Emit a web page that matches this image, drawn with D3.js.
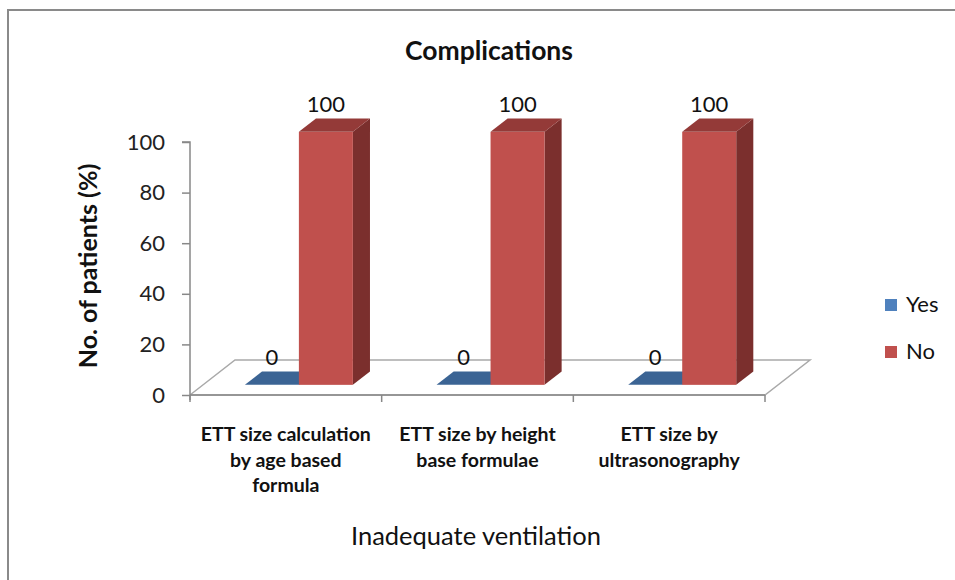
<!DOCTYPE html>
<html>
<head>
<meta charset="utf-8">
<script src="https://cdn.jsdelivr.net/npm/d3@7"></script>
<style>
  html, body { margin: 0; padding: 0; background: #fff; }
  svg { display: block; font-family: Lato, "Noto Sans", sans-serif; }
</style>
</head>
<body>
<svg id="chart" width="955" height="580"></svg>
<script>
// Chart data
const categories = [
  ["ETT size calculation", "by age based", "formula"],
  ["ETT size by height", "base formulae"],
  ["ETT size by", "ultrasonography"]
];
const seriesNames = ["Yes", "No"];
const yesValues = [0, 0, 0];
const noValues = [100, 100, 100];
const yTicks = [0, 20, 40, 60, 80, 100];

const colors = {
  Yes: { front: "#4F81BD", side: "#2C4D75", top: "#3B6494" },
  No:  { front: "#C0504D", side: "#7B2F2D", top: "#943A38" }
};

const svg = d3.select("#chart");

// outer frame
svg.append("rect")
  .attr("x", 8).attr("y", 10).attr("width", 960).attr("height", 600)
  .attr("fill", "none").attr("stroke", "#8a8a8a").attr("stroke-width", 2);

// plot geometry
const x0 = 190, x1 = 765, yBase = 395, yTop = 142;
const floorDepth = [45, -35];     // 3D depth vector of floor
const barFrontFrac = 0.29, barDepthFrac = 0.38;

const keys = categories.map((c, i) => "c" + i);
const x = d3.scaleBand().domain(keys).range([x0, x1]).paddingInner(0).paddingOuter(0);
const xs = d3.scaleBand().domain(seriesNames).range([0, x.bandwidth()])
  .paddingInner(0).paddingOuter(0.775);
const y = d3.scaleLinear().domain([0, 100]).range([yBase, yTop]);

// floor
const fdx = floorDepth[0], fdy = floorDepth[1];
svg.append("path")
  .attr("d", d3.line()([[x0, yBase], [x1, yBase], [x1 + fdx, yBase + fdy], [x0 + fdx, yBase + fdy], [x0, yBase]]))
  .attr("fill", "none").attr("stroke", "#a9a9a9").attr("stroke-width", 1.5);

// y axis
const yAxis = d3.axisLeft(y).tickValues(yTicks).tickSize(8).tickPadding(17);
const gy = svg.append("g").attr("transform", `translate(${x0},0)`).call(yAxis);
gy.select(".domain").attr("d", `M-8,${yTop}H0V${yBase + 5}`).attr("stroke", "#888").attr("stroke-width", 1.5);
gy.selectAll(".tick line").attr("stroke", "#888").attr("stroke-width", 1.5);
gy.selectAll(".tick text").attr("font-size", 22).attr("fill", "#222")
  .attr("font-family", "Lato, 'Noto Sans', sans-serif");

// x axis line with category boundary ticks
svg.append("line").attr("x1", x0).attr("x2", x1).attr("y1", yBase).attr("y2", yBase)
  .attr("stroke", "#888").attr("stroke-width", 1.5);
const boundaries = keys.map(k => x(k)).concat([x1]);
svg.selectAll(".xtick").data(boundaries).join("line")
  .attr("x1", d => d).attr("x2", d => d).attr("y1", yBase).attr("y2", yBase + 7)
  .attr("stroke", "#888").attr("stroke-width", 1.5);

// 3D bars
const offX = fdx * barFrontFrac, offY = fdy * barFrontFrac;
const dX = fdx * barDepthFrac, dY = fdy * barDepthFrac;

function drawBar(g, bx, w, v, c) {
  const yt = y(v) + offY, yb = y(0) + offY;
  const xl = bx + offX, xr = xl + w;
  if (yb - yt > 0) {
    g.append("path").attr("d", d3.line()([[xr, yb], [xr + dX, yb + dY], [xr + dX, yt + dY], [xr, yt]]) + "Z")
      .attr("fill", c.side);
    g.append("rect").attr("x", xl).attr("y", yt).attr("width", w).attr("height", yb - yt).attr("fill", c.front);
  }
  g.append("path").attr("d", d3.line()([[xl, yt], [xr, yt], [xr + dX, yt + dY], [xl + dX, yt + dY]]) + "Z")
    .attr("fill", c.top);
}

const gBars = svg.append("g");
keys.forEach((k, i) => {
  const vals = { Yes: yesValues[i], No: noValues[i] };
  seriesNames.forEach(s => {
    drawBar(gBars, x(k) + xs(s), xs.bandwidth(), vals[s], colors[s]);
  });
});

// value labels
const gLab = svg.append("g").attr("font-size", 22).attr("fill", "#111").attr("text-anchor", "middle");
keys.forEach((k, i) => {
  const vals = { Yes: yesValues[i], No: noValues[i] };
  seriesNames.forEach(s => {
    gLab.append("text")
      .attr("x", x(k) + xs(s) + xs.bandwidth() / 2 + offX)
      .attr("y", y(vals[s]) + offY - 20)
      .text(vals[s]);
  });
});

// category labels
const gCat = svg.append("g").attr("font-size", 19.5).attr("font-weight", "bold")
  .attr("fill", "#111").attr("text-anchor", "middle");
categories.forEach((lines, i) => {
  const cx = x(keys[i]) + x.bandwidth() / 2;
  const t = gCat.append("text").attr("x", cx).attr("y", 441);
  lines.forEach((ln, j) => t.append("tspan").attr("x", cx).attr("y", 441 + j * 25.5).text(ln));
});

// titles
svg.append("text").attr("x", 489).attr("y", 60).attr("text-anchor", "middle")
  .attr("font-size", 26.5).attr("font-weight", "bold").attr("fill", "#111").text("Complications");
svg.append("text").attr("x", 476).attr("y", 545).attr("text-anchor", "middle")
  .attr("font-size", 25.5).attr("fill", "#111").text("Inadequate ventilation");
svg.append("text").attr("transform", "translate(97,266) rotate(-90)").attr("text-anchor", "middle")
  .attr("font-size", 25).attr("font-weight", "bold").attr("fill", "#111").text("No. of patients (%)");

// legend
const legend = svg.append("g");
seriesNames.forEach((s, i) => {
  const ly = 312 + i * 47;
  legend.append("rect").attr("x", 885).attr("y", ly - 13).attr("width", 12).attr("height", 12)
    .attr("fill", colors[s].front);
  legend.append("text").attr("x", 906).attr("y", ly).attr("font-size", 22).attr("fill", "#111").text(s);
});
</script>
</body>
</html>
